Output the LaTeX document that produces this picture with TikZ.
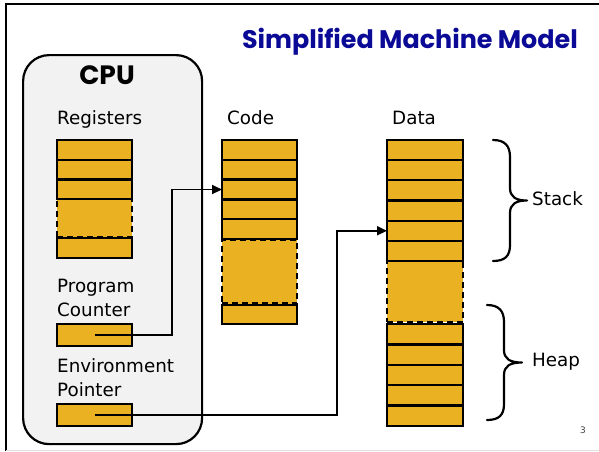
\documentclass[tikz,border=0pt]{standalone}
\usepackage{fontspec}
\setmainfont{DejaVu Sans}
\newfontfamily\headfont{Poppins}
\usetikzlibrary{arrows.meta}
\definecolor{cellfill}{RGB}{234,178,34}
\definecolor{cpufill}{RGB}{242,242,242}
\definecolor{titleblue}{RGB}{10,10,150}
\begin{document}
\begin{tikzpicture}[x=1pt,y=-1pt,
  cell/.style={draw, line width=2.3pt, fill=cellfill, minimum width=75pt,
               inner sep=0pt, outer sep=0pt, anchor=north west},
  gapbox/.style={draw, line width=2.3pt, fill=cellfill, dash pattern=on 6pt off 4pt,
               minimum width=75pt, inner sep=0pt, outer sep=0pt, anchor=north west},
  lbl/.style={font=\fontsize{18.3}{24}\selectfont, inner sep=0pt, anchor=base west, align=left},
  conn/.style={line width=1.9pt, -{Triangle[length=10pt,width=9pt]}},
  bracepath/.style={line width=2.2pt, line cap=round, line join=round}]

\useasboundingbox (0,0) rectangle (599,451);

% slide frame
\draw[line width=2.5pt] (6,451) -- (6,4) -- (599,4);
\draw[black!12, line width=1pt] (6,450.5) -- (599,450.5);

% title
\node[font=\headfont\bfseries\fontsize{25.4}{30}\selectfont, text=titleblue, anchor=east, inner sep=0pt]
  (title) at (578,42) {Simplified Machine Model};

% CPU panel
\node[draw, line width=2.2pt, fill=cpufill, rounded corners=26pt, minimum width=179pt,
      minimum height=389pt, anchor=north west, inner sep=0pt] (cpu) at (22,54) {};
\node[font=\headfont\bfseries\fontsize{26.5}{30}\selectfont, inner sep=0pt] (cputxt) at (107,75) {CPU};

% labels
\node[lbl] (lreg) at (57,124) {Registers};
\node[lbl] (lcode) at (227,124) {Code};
\node[lbl] (ldata) at (392,124) {Data};
\node[lbl] (lpc) at (57,316.7) {Program\\Counter};
\node[lbl] (lep) at (57,396) {Environment\\Pointer};
\node[lbl] (lstack) at (532,205) {Stack};
\node[lbl] (lheap) at (532,366.5) {Heap};

% registers
\node[gapbox, minimum height=38pt] (rgap) at (57,199) {};
\foreach \i in {0,1,2}
  \node[cell, minimum height=19.7pt] (r\i) at (57,{140+19.7*\i}) {};
\node[cell, minimum height=20pt] (r3) at (57,238) {};
\node[cell, minimum height=22pt] (pc) at (57,324) {};
\node[cell, minimum height=22pt] (ep) at (57,404) {};

% code segment
\node[gapbox, minimum height=64pt] (cgap) at (222,239.5) {};
\foreach \i in {0,...,4}
  \node[cell, minimum height=19.8pt] (c\i) at (222,{140+19.8*\i}) {};
\node[cell, minimum height=19pt] (c5) at (222,305) {};

% data segment
\node[gapbox, minimum height=61pt, minimum width=76pt] (dgap) at (387,261) {};
\foreach \i in {0,...,5}
  \node[cell, minimum width=76pt, minimum height=20.17pt] (d\i) at (387,{140+20.17*\i}) {};
\foreach \i in {0,...,4}
  \node[cell, minimum width=76pt, minimum height=20.4pt] (h\i) at (387,{324+20.4*\i}) {};

% braces
\draw[bracepath] (493,140) .. controls (505,140) and (510,146) .. (510,157)
  -- (510,188) .. controls (510,197) and (516,200.5) .. (527,200.5)
  .. controls (516,200.5) and (510,204) .. (510,213)
  -- (510,245) .. controls (510,256) and (505,261) .. (493,261);
\draw[bracepath] (487,305) .. controls (499,305) and (504,311) .. (504,322)
  -- (504,350) .. controls (504,359) and (510,362.5) .. (522,362.5)
  .. controls (510,362.5) and (504,366) .. (504,375)
  -- (504,404) .. controls (504,415) and (499,420) .. (487,420);

% pointers
\coordinate (pcbend) at (172,0);
\coordinate (epbend) at (337,0);
\draw[conn] (pc.center) -| (pcbend |- c2.west) -- (c2.west);
\draw[conn] (ep.center) -| (epbend |- d4.west) -- (d4.west);

% page number
\node[font=\fontsize{9}{10}\selectfont, text=black!75, inner sep=0pt] (pg) at (583,430) {3};
\end{tikzpicture}
\end{document}
